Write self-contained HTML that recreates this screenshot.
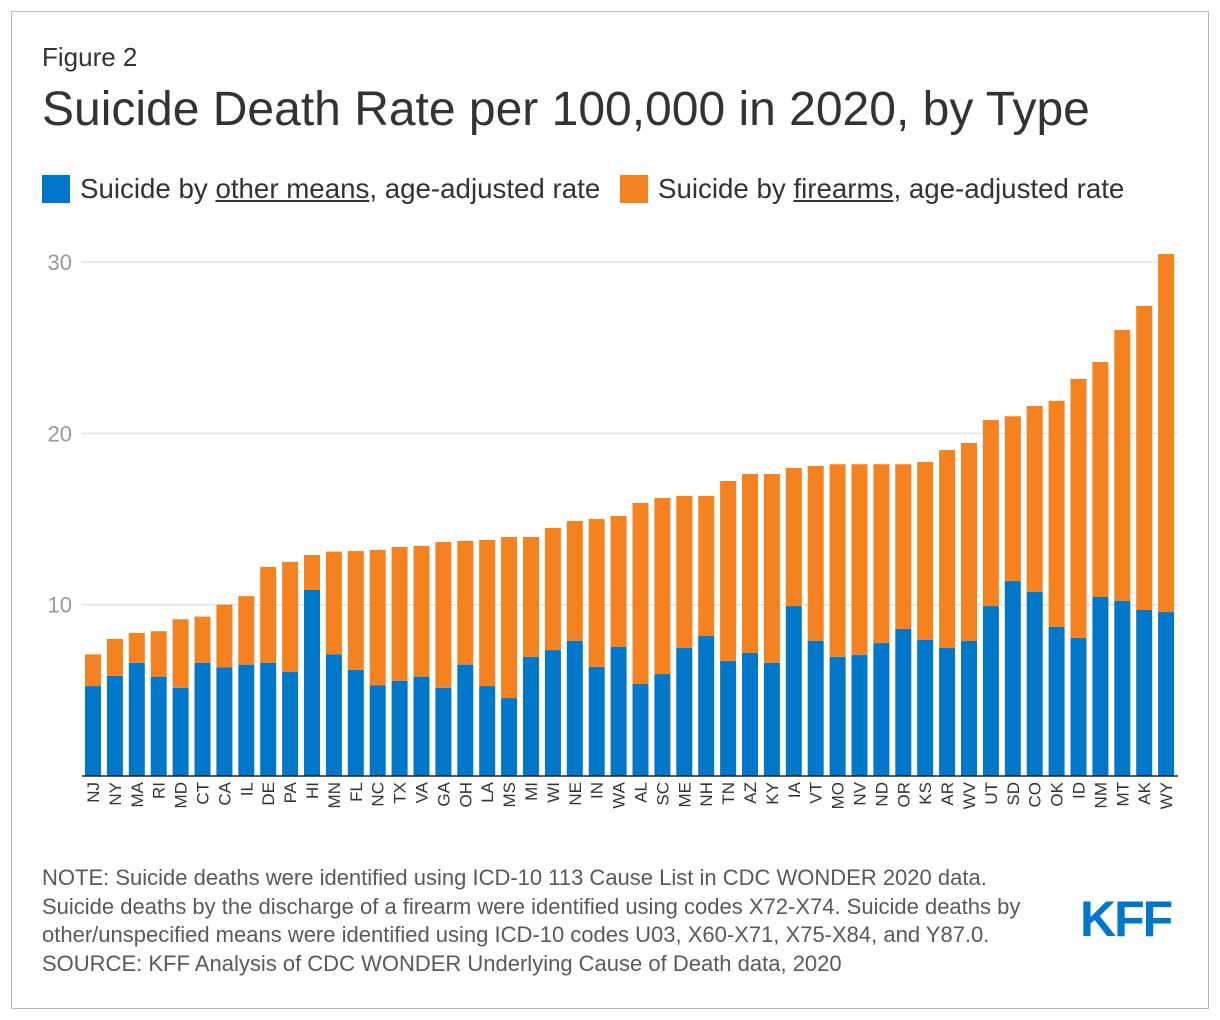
<!DOCTYPE html>
<html><head><meta charset="utf-8"><style>
body{margin:0;background:#fff;font-family:"Liberation Sans",Arial,sans-serif;}
#wrap{position:relative;width:1220px;height:1020px;overflow:hidden;}
.frame{position:absolute;left:11px;top:11px;width:1196px;height:996px;border:1px solid #bbb;}
.fig{position:absolute;left:42px;top:42px;font-size:26px;color:#333;}
.title{position:absolute;left:42px;top:82px;font-size:48px;color:#333;}
.leg{position:absolute;top:173px;font-size:27.7px;color:#333;display:flex;align-items:center;}
.sw{width:28px;height:28px;margin-right:10px;}
.note{position:absolute;left:42px;top:864px;font-size:22px;line-height:28.6px;color:#595959;}
.logo{position:absolute;left:1080px;top:890px;font-size:50px;font-weight:bold;color:#0077c8;letter-spacing:-2px;}
</style></head><body>
<div id="wrap">
<div class="frame"></div>
<div class="fig">Figure 2</div>
<div class="title">Suicide Death Rate per 100,000 in 2020, by Type</div>
<div class="leg" style="left:42px"><div class="sw" style="background:#0077c8"></div>Suicide by&nbsp;<u>other means</u>, age-adjusted rate</div>
<div class="leg" style="left:620px"><div class="sw" style="background:#f58220"></div>Suicide by&nbsp;<u>firearms</u>, age-adjusted rate</div>
<svg id="chart" width="1220" height="1020" style="position:absolute;left:0;top:0"></svg>
<div class="note">NOTE: Suicide deaths were identified using ICD-10 113 Cause List in CDC WONDER 2020 data.<br>Suicide deaths by the discharge of a firearm were identified using codes X72-X74. Suicide deaths by<br>other/unspecified means were identified using ICD-10 codes U03, X60-X71, X75-X84, and Y87.0.<br>SOURCE: KFF Analysis of CDC WONDER Underlying Cause of Death data, 2020</div>
<div class="logo">KFF</div>
</div>
<script>
const states=["NJ","NY","MA","RI","MD","CT","CA","IL","DE","PA","HI","MN","FL","NC","TX","VA","GA","OH","LA","MS","MI","WI","NE","IN","WA","AL","SC","ME","NH","TN","AZ","KY","IA","VT","MO","NV","ND","OR","KS","AR","WV","UT","SD","CO","OK","ID","NM","MT","AK","WY"];
const otherMeans=[5.25,5.85,6.6,5.8,5.15,6.6,6.35,6.5,6.6,6.07,10.86,7.1,6.2,5.3,5.55,5.8,5.15,6.5,5.25,4.55,6.95,7.35,7.88,6.36,7.53,5.37,5.95,7.47,8.17,6.71,7.18,6.6,9.92,7.88,6.95,7.06,7.76,8.58,7.94,7.47,7.88,9.92,11.38,10.74,8.7,8.06,10.45,10.22,9.69,9.57];
const totalRate=[7.1,8.0,8.35,8.45,9.15,9.3,10.0,10.5,12.2,12.5,12.9,13.1,13.13,13.2,13.37,13.43,13.66,13.72,13.78,13.95,13.95,14.48,14.89,15.0,15.18,15.94,16.23,16.35,16.35,17.22,17.63,17.63,17.98,18.1,18.2,18.2,18.2,18.2,18.33,19.03,19.44,20.78,21.0,21.6,21.9,23.18,24.17,26.04,27.44,30.47];
const firearms=totalRate.map((t,i)=>+(t-otherMeans[i]).toFixed(2));
const yTicks=[10,20,30];
const svg=document.getElementById('chart');const NS='http://www.w3.org/2000/svg';
const y0=776,ppu=17.13,x0=85,pitch=21.9,bw=16;
const ys=v=>y0-v*ppu;const xs=i=>x0+i*pitch;
function mk(t,a){const e=document.createElementNS(NS,t);for(const k in a)e.setAttribute(k,a[k]);svg.appendChild(e);return e;}
yTicks.forEach(v=>{
 const l=mk('line',{x1:82,x2:1178,y1:ys(v),y2:ys(v),stroke:'#e3e3e3','stroke-width':1.5});
 
 
 const t=mk('text',{x:72,y:ys(v)+8,'text-anchor':'end','font-size':22,fill:'#999','font-family':'Liberation Sans, sans-serif'});t.textContent=v;
 
 
});
states.forEach((s,i)=>{
 const b=mk('rect',{x:xs(i),y:ys(otherMeans[i]),width:bw,height:otherMeans[i]*ppu,fill:'#0077c8'});
 
 
 const f=mk('rect',{x:xs(i),y:ys(otherMeans[i]+firearms[i]),width:bw,height:firearms[i]*ppu,fill:'#f58220'});
 
 
 const cx=xs(i)+bw/2+6;
 const t=mk('text',{x:cx,y:782,transform:`rotate(-90 ${cx} 782)`,'text-anchor':'end','font-size':17,fill:'#333','font-family':'Liberation Sans, sans-serif'});t.textContent=s;
 
 
});
const ax=mk('line',{x1:82,x2:1178,y1:y0,y2:y0,stroke:'#222','stroke-width':1.5});


</script>
</body></html>
